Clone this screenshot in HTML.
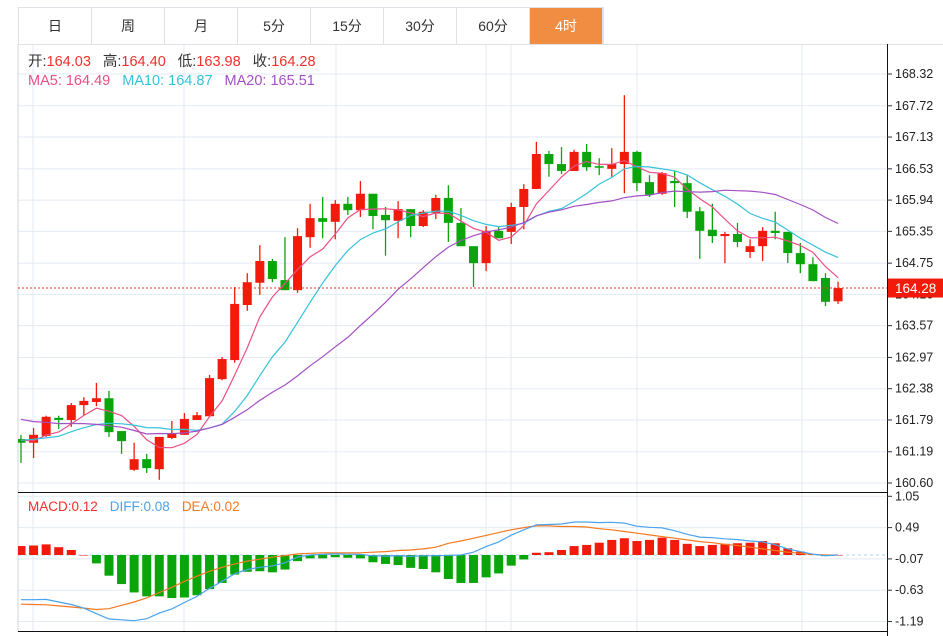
<!DOCTYPE html>
<html><head><meta charset="utf-8"><style>
body{margin:0;background:#fff;width:943px;height:636px;overflow:hidden;font-family:"Liberation Sans","Noto Sans CJK SC",sans-serif}
.tabs{position:absolute;left:18px;top:7px;height:37px;display:flex;border:1px solid #dfe3e8;border-bottom:none}
.tab{width:73px;height:37px;line-height:37px;text-align:center;font-size:14px;color:#333;border-right:1px solid #dfe3e8;box-sizing:border-box}
.tab.active{background:#f18d42;color:#fff}
svg{position:absolute;left:0;top:0}
</style></head><body>
<div class="tabs">
<div class="tab">日</div>
<div class="tab">周</div>
<div class="tab">月</div>
<div class="tab">5分</div>
<div class="tab">15分</div>
<div class="tab">30分</div>
<div class="tab">60分</div>
<div class="tab active">4时</div>
</div>
<svg id="chart" width="943" height="636" font-family="Liberation Sans, Noto Sans CJK SC, sans-serif"></svg>
<script>
const opens=[161.43,161.36,161.49,161.83,161.79,162.07,162.13,162.20,161.58,160.85,161.05,160.86,161.45,161.51,161.79,161.86,162.56,162.92,163.96,164.38,164.79,164.43,164.24,165.24,165.60,165.53,165.87,165.75,166.06,165.66,165.55,165.77,165.45,165.70,165.98,165.51,165.07,164.75,165.36,165.34,165.81,166.15,166.81,166.62,166.49,166.85,166.58,166.53,166.62,166.85,166.28,166.06,166.30,166.26,165.73,165.38,165.26,165.30,164.96,165.07,165.36,165.34,164.94,164.73,164.47,164.03];
const highs=[161.51,161.64,161.87,161.87,162.11,162.22,162.49,162.34,161.58,161.36,161.15,161.47,161.77,161.92,161.94,162.64,162.98,164.30,164.56,165.09,164.83,165.24,165.41,165.87,166.00,165.94,166.00,166.30,166.06,165.81,165.92,165.77,165.75,166.04,166.22,165.79,165.07,165.45,165.43,165.89,166.24,167.04,166.87,166.94,166.89,167.00,166.73,166.92,167.92,166.87,166.41,166.47,166.49,166.41,165.81,165.87,165.34,165.51,165.20,165.43,165.72,165.34,165.13,164.86,164.56,164.40];
const lows=[160.98,161.07,161.47,161.62,161.66,161.88,162.05,161.47,161.15,160.83,160.79,160.66,161.43,161.51,161.79,161.86,162.54,162.87,163.85,164.15,164.39,164.24,164.19,165.04,165.22,165.20,165.66,165.62,165.39,164.89,165.22,165.24,165.43,165.58,165.15,165.07,164.30,164.60,165.22,165.11,165.39,166.15,166.38,166.43,166.49,166.49,166.41,166.38,166.07,166.11,166.00,166.04,165.81,165.60,164.83,165.13,164.75,165.05,164.85,164.79,165.20,164.75,164.56,164.41,163.94,163.98];
const closes=[161.36,161.51,161.85,161.79,162.07,162.15,162.20,161.56,161.39,161.05,160.88,161.47,161.54,161.81,161.88,162.58,162.94,163.98,164.39,164.79,164.45,164.24,165.26,165.60,165.53,165.87,165.75,166.06,165.64,165.56,165.77,165.45,165.72,165.98,165.51,165.07,164.75,165.36,165.22,165.81,166.15,166.81,166.62,166.49,166.85,166.56,166.55,166.62,166.85,166.26,166.04,166.45,166.26,165.72,165.36,165.26,165.30,165.15,165.07,165.36,165.32,164.94,164.73,164.41,164.02,164.28];
const priorCloses=[162.4,162.1,162.3,162.0,162.2,162.5,162.1,161.9,162.3,162.2,161.3,161.6,161.5,161.2,161.4,161.6,161.3,161.5,161.3];
const macdBars=[0.16,0.17,0.19,0.14,0.09,0.0,-0.15,-0.37,-0.52,-0.67,-0.74,-0.74,-0.77,-0.76,-0.72,-0.61,-0.50,-0.35,-0.30,-0.29,-0.31,-0.26,-0.11,-0.06,-0.06,-0.04,-0.05,-0.06,-0.13,-0.16,-0.18,-0.23,-0.25,-0.31,-0.43,-0.50,-0.50,-0.40,-0.33,-0.19,-0.08,0.04,0.05,0.09,0.16,0.18,0.22,0.27,0.30,0.25,0.27,0.31,0.27,0.20,0.16,0.18,0.20,0.21,0.22,0.25,0.21,0.12,0.06,0.01,-0.02,0.0];
const deaVals=[-0.88,-0.885,-0.89,-0.91,-0.93,-0.95,-0.975,-0.96,-0.90,-0.84,-0.77,-0.67,-0.58,-0.47,-0.38,-0.29,-0.22,-0.16,-0.11,-0.075,-0.04,-0.01,0.02,0.03,0.04,0.04,0.04,0.04,0.05,0.06,0.08,0.09,0.11,0.14,0.21,0.25,0.30,0.35,0.40,0.45,0.49,0.52,0.52,0.51,0.51,0.50,0.47,0.45,0.42,0.39,0.36,0.33,0.30,0.27,0.24,0.22,0.19,0.17,0.14,0.11,0.08,0.05,0.03,0.01,0.0,0.0];
const priceTicks=[168.32,167.72,167.13,166.53,165.94,165.35,164.75,164.16,163.57,162.97,162.38,161.79,161.19,160.60];
const macdTicks=[1.05,0.49,-0.07,-0.63,-1.19,-1.75];
const lastPrice=164.28;

const NS='http://www.w3.org/2000/svg';
const svg=document.getElementById('chart');
function mk(tag,attrs,parent){const e=document.createElementNS(NS,tag);for(const k in attrs)e.setAttribute(k,attrs[k]);(parent||svg).appendChild(e);return e;}
const xOf=i=>21+12.57*i;
const yP=p=>74+(168.32-p)*52.98;
const yM=v=>555+(0-v)*55.9;
const L=18,R=887;

const grid=mk('g',{});


[33,184,336,486,511,637,802].forEach(x=>{mk('line',{x1:x,x2:x,y1:44,y2:631,stroke:'#e3ebf3','stroke-width':1},grid);});
priceTicks.forEach(t=>{mk('line',{x1:L,x2:R,y1:yP(t),y2:yP(t),stroke:'#e3ebf3'},grid);});
macdTicks.forEach(t=>{mk('line',{x1:L,x2:R,y1:yM(t),y2:yM(t),stroke:'#e3ebf3'},grid);});
mk('line',{x1:L,x2:943,y1:44.5,y2:44.5,stroke:'#dfe3e8'},grid);
mk('line',{x1:L,x2:L,y1:44,y2:632,stroke:'#d0d6dd'},grid);
mk('line',{x1:L,x2:R,y1:492.5,y2:492.5,stroke:'#111'},grid);
mk('line',{x1:L,x2:R,y1:631.5,y2:631.5,stroke:'#111'},grid);
mk('line',{x1:R+.5,x2:R+.5,y1:44,y2:636,stroke:'#111'},grid);

const ax=mk('g',{'font-size':12.5,fill:'#222'});


priceTicks.forEach(t=>{const y=yP(t);mk('line',{x1:R,x2:R+5,y1:y,y2:y,stroke:'#333'},ax);const tx=mk('text',{x:895,y:y+4},ax);tx.textContent=t.toFixed(2);});
const ax2=mk('g',{'font-size':12.5,fill:'#222'});


macdTicks.forEach(t=>{const y=yM(t);mk('line',{x1:R,x2:R+5,y1:y,y2:y,stroke:'#333'},ax2);const tx=mk('text',{x:895,y:y+4},ax2);tx.textContent=t.toFixed(2);});

const defs=mk('defs',{});
const cp=mk('clipPath',{id:'pc'},defs);mk('rect',{x:L,y:45,width:R-L,height:447},cp);
const cm=mk('clipPath',{id:'mc'},defs);mk('rect',{x:L,y:493,width:R-L,height:138},cm);

const cg=mk('g',{'clip-path':'url(#pc)'});


closes.forEach((c,i)=>{
  const o=opens[i],up=c>=o,col=up?'#f21a0a':'#0aa50a',x=xOf(i);
  const g=mk('g',{},cg);
  
  
  mk('line',{x1:x,x2:x,y1:yP(highs[i]),y2:yP(lows[i]),stroke:col,'stroke-width':1.3},g);
  const top=yP(Math.max(o,c)),h=Math.max(1.5,Math.abs(yP(o)-yP(c)));
  mk('rect',{x:x-4.5,y:top,width:9,height:h,fill:col},g);
});

const all=priorCloses.concat(closes),off=priorCloses.length;
function ma(n){return closes.map((_,i)=>{let s=0;for(let k=0;k<n;k++)s+=all[off+i-k];return s/n;});}
[[5,'#ec4f86','ma5-line'],[10,'#36c2da','ma10-line'],[20,'#a54fc6','ma20-line']].forEach(([n,col,name])=>{
  const v=ma(n);const p=mk('path',{d:v.map((m,i)=>(i?'L':'M')+xOf(i).toFixed(1)+' '+yP(m).toFixed(1)).join(''),fill:'none',stroke:col,'stroke-width':1.2,'clip-path':'url(#pc)'});
  
  
});

const lp=mk('line',{x1:L,x2:R,y1:yP(lastPrice),y2:yP(lastPrice),stroke:'#f0302a','stroke-dasharray':'2,2','stroke-width':1});


const tag=mk('g',{});


mk('rect',{x:R+1,y:yP(lastPrice)-9.5,width:55,height:19,fill:'#f21a0a'},tag);
const tt=mk('text',{x:895,y:yP(lastPrice)+5,fill:'#fff','font-size':13.5},tag);tt.textContent=lastPrice.toFixed(2);

const mg=mk('g',{'clip-path':'url(#mc)'});


mk('line',{x1:L,x2:R,y1:yM(0),y2:yM(0),stroke:'#a9d4ee','stroke-dasharray':'3,3'},mg);
macdBars.forEach((v,i)=>{
  const r=mk('rect',{x:xOf(i)-4.5,y:Math.min(yM(v),yM(0)),width:9,height:Math.max(0.5,Math.abs(yM(v)-yM(0))),fill:v>=0?'#f21a0a':'#0aa50a'},mg);
  
  
});
const difVals=deaVals.map((d,i)=>d+macdBars[i]/2);
[[deaVals,'#f47a20','dea-line'],[difVals,'#4aa3ee','dif-line']].forEach(([arr,col,name])=>{
  const p=mk('path',{d:arr.map((v,i)=>(i?'L':'M')+xOf(i).toFixed(1)+' '+yM(v).toFixed(1)).join(''),fill:'none',stroke:col,'stroke-width':1.2,'clip-path':'url(#mc)'});
  
  
});
</script>
<svg width="943" height="636" style="position:absolute;left:0;top:0;pointer-events:none" font-family="Liberation Sans, Noto Sans CJK SC, sans-serif" font-size="14.5">
<text x="28" y="66"><tspan fill="#333">开:</tspan><tspan fill="#f0302a">164.03</tspan><tspan dx="12" fill="#333">高:</tspan><tspan fill="#f0302a">164.40</tspan><tspan dx="12" fill="#333">低:</tspan><tspan fill="#f0302a">163.98</tspan><tspan dx="12" fill="#333">收:</tspan><tspan fill="#f0302a">164.28</tspan></text>
<text x="28" y="85"><tspan fill="#ec4f86">MA5: 164.49</tspan><tspan dx="12" fill="#36c2da">MA10: 164.87</tspan><tspan dx="12" fill="#a54fc6">MA20: 165.51</tspan></text>
<text x="28" y="511" font-size="13.5"><tspan fill="#f0302a">MACD:0.12</tspan><tspan dx="12" fill="#4aa3ee">DIFF:0.08</tspan><tspan dx="12" fill="#f47a20">DEA:0.02</tspan></text>
</svg>
</body></html>
